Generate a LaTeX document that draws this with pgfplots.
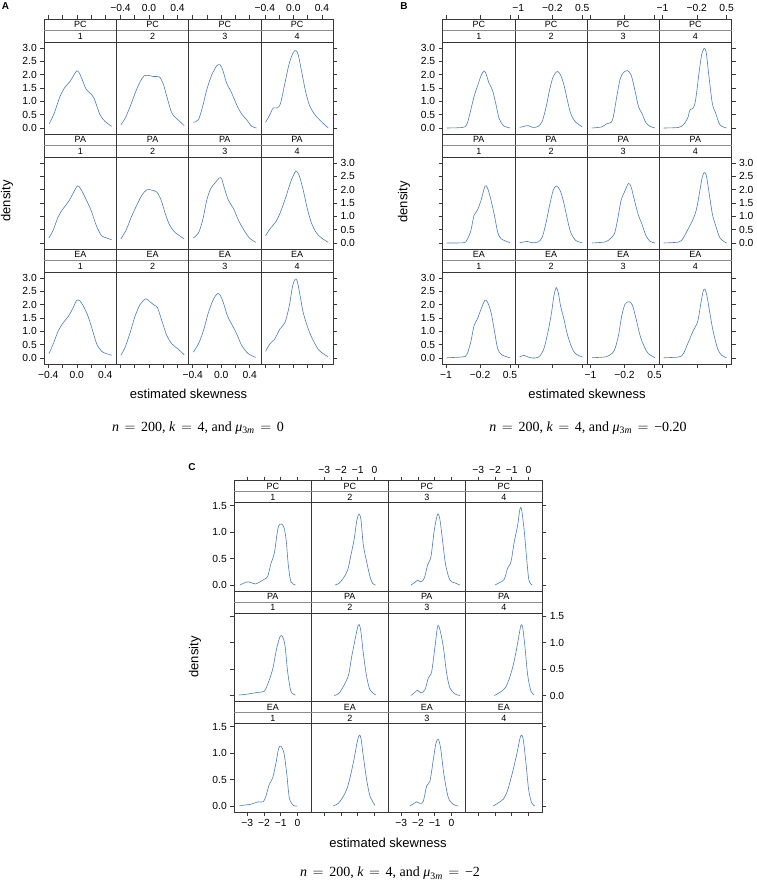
\documentclass[border=0pt]{standalone}
\usepackage{fontspec}
\setmainfont{Liberation Sans}
\newfontfamily\capf{Liberation Serif}
\usepackage{pgfplots}
\pgfplotsset{compat=1.18}
\definecolor{cv}{RGB}{75,125,185}
\definecolor{fr}{RGB}{55,55,55}
\newcommand\tlf{\fontsize{10.3}{12}\selectfont}
\newcommand\stf{\fontsize{9}{10}\selectfont}
\newcommand\mi[1]{{\itshape #1}}
\newcommand\eq{\hspace{0.4em}$=$\hspace{0.4em}}
\newcommand\capt[1]{{\capf\fontsize{14}{16}\selectfont\mi{n}\eq 200, \mi{k}\eq 4, and \mi{μ}\textsubscript{3\mi{m}}\eq #1}}

\pgfplotsset{
  lat/.style={scale only axis, anchor=south west, clip=true,
    axis line style={draw=fr, line width=0.5pt},
    tick style={draw=fr, line width=0.5pt},
    tick align=outside, major tick length=4pt,
    xtick=\empty, ytick=\empty,
    ticklabel style={font=\tlf}},
  la/.style={lat, width=72.2pt, height=115pt, xmin=-0.456, xmax=0.557, ymin=-0.225, ymax=4.0875},
  lb/.style={lat, width=72.2pt, height=115pt, xmin=-1.077, xmax=0.614, ymin=-0.225, ymax=4.0875},
  lc/.style={lat, width=77pt, height=110.5pt, xmin=-3.78, xmax=0.83, ymin=-0.117, ymax=1.972},
  xtA/.style={xtick={-0.4,-0.2,0,0.2,0.4}}, xlA/.style={xticklabels={−0.4,,0.0,,0.4}},
  xtB/.style={xtick={-1,-0.2,0.5}}, xlB/.style={xticklabels={−1,−0.2,0.5}},
  xtC/.style={xtick={-3,-2,-1,0}}, xlC/.style={xticklabels={−3,−2,−1,0}},
  ytAB/.style={ytick={0,0.5,1,1.5,2,2.5,3}}, ylAB/.style={yticklabels={0.0,0.5,1.0,1.5,2.0,2.5,3.0}},
  ytC/.style={ytick={0,0.5,1,1.5}}, ylC/.style={yticklabels={0.0,0.5,1.0,1.5}},
  top/.style={xtick pos=right, xticklabel pos=right},
  bot/.style={xtick pos=left, xticklabel pos=left},
  lft/.style={ytick pos=left, yticklabel pos=left},
  rgt/.style={ytick pos=right, yticklabel pos=right},
  nolx/.style={xticklabels={}}, noly/.style={yticklabels={}},
  cv/.style={color=cv, line width=0.6pt, smooth, no markers},
}
\newcommand\pan[2]{\begin{axis}[#1]\addplot[cv] coordinates {#2};\end{axis}}

\begin{document}
\begin{tikzpicture}[x=1pt,y=1pt]
\useasboundingbox (0,0) rectangle (756,883);

% ---------------- A ----------------
\pan{la,at={(44.3pt,749pt)},xtA,top,nolx,ytAB,lft,ylAB}{(-0.386,0.16)(-0.316,0.56)(-0.236,1.18)(-0.166,1.53)(-0.096,1.74)(-0.040,1.99)(-0.002,2.14)(0.031,2.08)(0.068,1.87)(0.129,1.46)(0.185,1.31)(0.241,1.12)(0.325,0.50)(0.395,0.25)(0.489,0.06)}
\pan{la,at={(116.5pt,749pt)},xtA,top,xlA}{(-0.395,0.12)(-0.334,0.37)(-0.264,0.81)(-0.194,1.31)(-0.124,1.74)(-0.068,1.96)(-0.030,1.98)(0.063,1.93)(0.148,1.91)(0.204,1.62)(0.250,1.18)(0.321,0.56)(0.414,0.29)(0.494,0.09)}
\pan{la,at={(188.7pt,749pt)},xtA,top,nolx}{(-0.391,0.21)(-0.320,0.31)(-0.260,0.81)(-0.203,1.43)(-0.133,1.99)(-0.063,2.33)(-0.016,2.37)(0.021,2.18)(0.077,1.68)(0.147,1.31)(0.227,0.81)(0.288,0.52)(0.358,0.31)(0.428,0.06)(0.498,0.0)}
\pan{la,at={(260.9pt,749pt)},xtA,top,xlA,ytAB,rgt,noly}{(-0.391,0.21)(-0.330,0.50)(-0.283,0.75)(-0.227,0.75)(-0.180,0.93)(-0.119,1.68)(-0.058,2.43)(-0.002,2.83)(0.035,2.90)(0.068,2.74)(0.115,2.12)(0.176,1.31)(0.232,0.81)(0.302,0.50)(0.372,0.29)(0.489,0.0)}

\pan{la,at={(44.3pt,634pt)},ytAB,lft,noly}{(-0.391,0.19)(-0.330,0.49)(-0.260,0.99)(-0.189,1.30)(-0.119,1.54)(-0.058,1.83)(0.007,2.14)(0.045,2.07)(0.091,1.85)(0.147,1.54)(0.208,1.17)(0.279,0.62)(0.349,0.27)(0.419,0.19)(0.489,0.12)}
\pan{la,at={(116.5pt,634pt)}}{(-0.395,0.15)(-0.320,0.49)(-0.250,0.96)(-0.171,1.42)(-0.100,1.79)(-0.030,2.00)(0.040,1.98)(0.110,1.91)(0.171,1.60)(0.227,1.11)(0.288,0.68)(0.353,0.43)(0.428,0.27)(0.494,0.15)}
\pan{la,at={(188.7pt,634pt)}}{(-0.391,0.19)(-0.320,0.37)(-0.260,0.86)(-0.203,1.60)(-0.147,2.04)(-0.086,2.25)(-0.026,2.44)(0.007,2.41)(0.040,2.10)(0.101,1.60)(0.171,1.30)(0.241,0.86)(0.311,0.52)(0.395,0.19)(0.489,0.02)}
\pan{la,at={(260.9pt,634pt)},ytAB,rgt,ylAB}{(-0.391,0.27)(-0.320,0.56)(-0.245,0.80)(-0.180,1.17)(-0.105,1.73)(-0.040,2.28)(0.021,2.65)(0.045,2.69)(0.082,2.53)(0.138,1.98)(0.194,1.30)(0.255,0.74)(0.325,0.37)(0.395,0.19)(0.489,0.02)}

\pan{la,at={(44.3pt,519pt)},xtA,bot,xlA,ytAB,lft,ylAB}{(-0.391,0.16)(-0.330,0.53)(-0.260,1.02)(-0.189,1.33)(-0.119,1.56)(-0.058,1.85)(-0.002,2.16)(0.045,2.14)(0.091,1.95)(0.147,1.64)(0.208,1.15)(0.279,0.53)(0.349,0.25)(0.419,0.16)(0.489,0.10)}
\pan{la,at={(116.5pt,519pt)},xtA,bot,nolx}{(-0.395,0.10)(-0.334,0.41)(-0.264,0.96)(-0.194,1.58)(-0.124,2.01)(-0.044,2.22)(0.017,2.10)(0.073,1.98)(0.119,1.89)(0.180,1.40)(0.250,0.84)(0.321,0.53)(0.414,0.32)(0.494,0.12)}
\pan{la,at={(188.7pt,519pt)},xtA,bot,xlA}{(-0.391,0.22)(-0.320,0.53)(-0.250,1.02)(-0.180,1.70)(-0.110,2.20)(-0.054,2.41)(-0.016,2.36)(0.031,2.07)(0.087,1.58)(0.147,1.27)(0.218,0.90)(0.288,0.47)(0.381,0.16)(0.489,0.02)}
\pan{la,at={(260.9pt,519pt)},xtA,bot,nolx,ytAB,rgt,noly}{(-0.391,0.25)(-0.330,0.53)(-0.260,0.72)(-0.189,1.09)(-0.119,1.33)(-0.058,1.95)(-0.012,2.69)(0.026,2.96)(0.054,2.88)(0.091,2.38)(0.138,1.70)(0.208,1.09)(0.279,0.65)(0.363,0.28)(0.489,0.04)}

% ---------------- B ----------------
\pan{lb,at={(442.7pt,749pt)},xtB,top,nolx,ytAB,lft,ylAB}{(-0.983,0)(-0.616,0.02)(-0.515,0.12)(-0.437,0.56)(-0.343,1.18)(-0.265,1.56)(-0.179,1.96)(-0.109,2.14)(-0.062,2.03)(0.008,1.68)(0.086,1.43)(0.164,0.93)(0.242,0.37)(0.344,0.09)(0.500,0)}
\pan{lb,at={(514.9pt,749pt)},xtB,top,xlB}{(-0.968,0.02)(-0.866,0.06)(-0.765,0.09)(-0.655,0.02)(-0.531,0.06)(-0.437,0.25)(-0.343,0.81)(-0.265,1.43)(-0.179,1.93)(-0.086,2.12)(-0.008,1.99)(0.071,1.62)(0.149,1.06)(0.227,0.56)(0.328,0.25)(0.500,0.04)}
\pan{lb,at={(587.1pt,749pt)},xtB,top,nolx}{(-0.968,0)(-0.734,0.04)(-0.616,0.16)(-0.515,0.21)(-0.460,0.44)(-0.382,1.18)(-0.304,1.83)(-0.226,2.08)(-0.132,2.15)(-0.047,1.99)(0.032,1.49)(0.125,0.81)(0.203,0.56)(0.297,0.21)(0.398,0.06)(0.515,0)}
\pan{lb,at={(659.3pt,749pt)},xtB,top,xlB,ytAB,rgt,noly}{(-0.976,0)(-0.632,0.02)(-0.515,0.12)(-0.413,0.37)(-0.359,0.68)(-0.281,0.75)(-0.226,1.06)(-0.148,2.05)(-0.086,2.74)(-0.023,2.99)(0.024,2.80)(0.086,1.93)(0.164,0.93)(0.242,0.56)(0.344,0.12)(0.500,0)}

\pan{lb,at={(442.7pt,634pt)},ytAB,lft,noly}{(-0.983,0)(-0.593,0.01)(-0.515,0.10)(-0.421,0.44)(-0.343,1.04)(-0.265,1.23)(-0.179,1.60)(-0.086,2.14)(-0.023,2.04)(0.055,1.60)(0.133,1.04)(0.211,0.41)(0.289,0.16)(0.500,0.01)}
\pan{lb,at={(514.9pt,634pt)}}{(-0.968,0.01)(-0.866,0.04)(-0.788,0.06)(-0.671,0.01)(-0.531,0.04)(-0.437,0.22)(-0.343,0.79)(-0.265,1.41)(-0.179,1.98)(-0.101,2.14)(-0.023,1.98)(0.055,1.60)(0.149,0.91)(0.227,0.41)(0.344,0.10)(0.500,0.01)}
\pan{lb,at={(587.1pt,634pt)}}{(-0.968,0)(-0.655,0.04)(-0.538,0.16)(-0.437,0.35)(-0.359,0.91)(-0.281,1.60)(-0.203,1.91)(-0.109,2.23)(-0.047,2.10)(0.032,1.60)(0.125,1.04)(0.203,0.73)(0.297,0.29)(0.398,0.06)(0.515,0)}
\pan{lb,at={(659.3pt,634pt)},ytAB,rgt,ylAB}{(-0.976,0)(-0.616,0.04)(-0.515,0.19)(-0.398,0.54)(-0.281,0.91)(-0.203,1.29)(-0.125,1.98)(-0.070,2.48)(-0.023,2.64)(0.024,2.54)(0.086,1.91)(0.164,1.10)(0.227,0.73)(0.344,0.19)(0.500,0)}

\pan{lb,at={(442.7pt,519pt)},xtB,bot,xlB,ytAB,lft,ylAB}{(-0.983,0.01)(-0.616,0.04)(-0.515,0.12)(-0.421,0.59)(-0.343,1.21)(-0.265,1.46)(-0.179,1.83)(-0.086,2.17)(-0.023,2.08)(0.055,1.71)(0.133,1.03)(0.211,0.35)(0.305,0.12)(0.500,0.01)}
\pan{lb,at={(514.9pt,519pt)},xtB,bot,nolx}{(-0.968,0.04)(-0.866,0.10)(-0.788,0.05)(-0.671,0)(-0.515,0.04)(-0.398,0.35)(-0.296,1.03)(-0.218,1.71)(-0.164,2.33)(-0.109,2.64)(-0.062,2.45)(-0.008,1.96)(0.071,1.46)(0.149,0.90)(0.250,0.41)(0.344,0.16)(0.500,0.04)}
\pan{lb,at={(587.1pt,519pt)},xtB,bot,xlB}{(-0.968,0.01)(-0.655,0.04)(-0.538,0.12)(-0.437,0.29)(-0.343,0.84)(-0.265,1.59)(-0.187,2.02)(-0.093,2.11)(-0.015,1.98)(0.063,1.52)(0.164,0.84)(0.266,0.41)(0.360,0.16)(0.515,0.01)}
\pan{lb,at={(659.3pt,519pt)},xtB,bot,nolx,ytAB,rgt,noly}{(-0.976,0.01)(-0.616,0.04)(-0.515,0.16)(-0.398,0.59)(-0.281,1.03)(-0.179,1.36)(-0.101,2.08)(-0.047,2.52)(-0.008,2.58)(0.039,2.33)(0.110,1.65)(0.188,0.97)(0.289,0.35)(0.383,0.10)(0.500,0.01)}

% ---------------- C ----------------
\pan{lc,at={(234.3pt,291.8pt)},xtC,top,nolx,ytC,lft,ylC}{(-3.441,0)(-3.181,0.04)(-2.942,0.06)(-2.742,0.04)(-2.503,0.02)(-2.243,0.06)(-1.984,0.11)(-1.784,0.16)(-1.584,0.41)(-1.385,0.60)(-1.185,1.04)(-1.046,1.15)(-0.846,1.12)(-0.686,0.88)(-0.547,0.38)(-0.387,0.06)(-0.107,0)}
\pan{lc,at={(311.3pt,291.8pt)},xtC,top,xlC}{(-2.363,0)(-2.123,0.03)(-1.864,0.13)(-1.604,0.28)(-1.405,0.57)(-1.205,0.88)(-1.065,1.20)(-0.926,1.34)(-0.806,1.23)(-0.666,0.76)(-0.467,0.44)(-0.267,0.16)(-0.107,0.03)(0.072,0)}
\pan{lc,at={(388.3pt,291.8pt)},xtC,top,nolx}{(-2.423,0)(-2.183,0.05)(-2.024,0.09)(-1.824,0.06)(-1.624,0.13)(-1.425,0.38)(-1.225,0.54)(-1.026,1.04)(-0.826,1.34)(-0.686,1.23)(-0.547,0.88)(-0.347,0.38)(-0.087,0.09)(0.212,0.04)(0.511,0)}
\pan{lc,at={(465.3pt,291.8pt)},xtC,top,xlC,ytC,rgt,noly}{(-2.004,0)(-1.704,0.05)(-1.445,0.11)(-1.245,0.32)(-1.046,0.44)(-0.846,0.82)(-0.646,1.13)(-0.507,1.44)(-0.407,1.42)(-0.247,1.01)(-0.107,0.50)(0.032,0.09)(0.232,0)}

\pan{lc,at={(234.3pt,181.3pt)},ytC,lft,noly}{(-3.501,0.01)(-3.141,0.02)(-2.742,0.04)(-2.343,0.06)(-1.984,0.08)(-1.784,0.21)(-1.584,0.39)(-1.445,0.55)(-1.245,0.89)(-1.046,1.11)(-0.906,1.12)(-0.746,0.95)(-0.587,0.45)(-0.387,0.08)(-0.107,0.01)}
\pan{lc,at={(311.3pt,181.3pt)}}{(-2.403,0)(-2.123,0.04)(-1.864,0.17)(-1.664,0.29)(-1.525,0.42)(-1.365,0.73)(-1.165,1.05)(-1.006,1.29)(-0.906,1.34)(-0.806,1.20)(-0.666,0.80)(-0.467,0.36)(-0.267,0.11)(0.072,0.01)}
\pan{lc,at={(388.3pt,181.3pt)}}{(-2.423,0)(-2.183,0.06)(-2.024,0.10)(-1.824,0.05)(-1.584,0.11)(-1.385,0.33)(-1.185,0.45)(-0.986,0.92)(-0.826,1.31)(-0.686,1.24)(-0.487,0.92)(-0.287,0.42)(-0.087,0.14)(0.212,0.03)(0.511,0)}
\pan{lc,at={(465.3pt,181.3pt)},ytC,rgt,ylC}{(-2.044,0)(-1.704,0.06)(-1.405,0.14)(-1.165,0.30)(-0.906,0.58)(-0.706,0.89)(-0.547,1.17)(-0.447,1.33)(-0.347,1.29)(-0.207,0.92)(-0.047,0.39)(0.152,0.08)(0.352,0.01)}

\pan{lc,at={(234.3pt,70.8pt)},xtC,bot,xlC,ytC,lft,ylC}{(-3.481,0)(-3.141,0.02)(-2.842,0.03)(-2.543,0.06)(-2.343,0.08)(-2.044,0.08)(-1.884,0.19)(-1.684,0.41)(-1.485,0.53)(-1.285,0.81)(-1.125,1.09)(-0.986,1.13)(-0.806,1.00)(-0.647,0.63)(-0.487,0.16)(-0.247,0.01)(-0.007,0)}
\pan{lc,at={(311.3pt,70.8pt)},xtC,bot,nolx}{(-2.463,0)(-2.163,0.05)(-1.904,0.16)(-1.664,0.31)(-1.465,0.53)(-1.225,0.88)(-1.026,1.22)(-0.906,1.34)(-0.806,1.28)(-0.666,0.94)(-0.467,0.50)(-0.267,0.19)(0.032,0.01)}
\pan{lc,at={(388.3pt,70.8pt)},xtC,bot,xlC}{(-2.483,0)(-2.243,0.05)(-2.083,0.08)(-1.884,0.05)(-1.684,0.09)(-1.485,0.38)(-1.285,0.47)(-1.085,0.88)(-0.926,1.19)(-0.786,1.26)(-0.646,1.09)(-0.447,0.59)(-0.187,0.16)(0.112,0.03)(0.412,0)}
\pan{lc,at={(465.3pt,70.8pt)},xtC,bot,nolx,ytC,rgt,noly}{(-2.103,0)(-1.804,0.06)(-1.505,0.13)(-1.265,0.28)(-1.066,0.50)(-0.866,0.75)(-0.666,1.03)(-0.507,1.28)(-0.407,1.34)(-0.307,1.25)(-0.147,0.81)(0.012,0.31)(0.192,0.06)(0.392,0)}

% strips
\foreach \xs in {44.3,442.7}{
  \foreach \r/\lab in {0/PC,1/PA,2/EA}{
    \foreach \c in {1,2,3,4}{
      \pgfmathsetmacro\xo{\xs+(\c-1)*72.2}
      \pgfmathsetmacro\yt{864-115*\r}
      \draw[fr,line width=0.5pt,fill=white] (\xo,\yt) rectangle ++(72.2,-23);
      \draw[black!45,line width=0.5pt] (\xo,\yt-11.5) -- ++(72.2,0);
      \node[font=\stf,inner sep=0pt] at (\xo+36.1,\yt-5.75) {\lab};
      \node[font=\stf,inner sep=0pt] at (\xo+36.1,\yt-17.25) {\c};
}}}
\foreach \r/\lab in {0/PC,1/PA,2/EA}{
  \foreach \c in {1,2,3,4}{
    \pgfmathsetmacro\xo{234.3+(\c-1)*77}
    \pgfmathsetmacro\yt{402.3-110.5*\r}
    \draw[fr,line width=0.5pt,fill=white] (\xo,\yt) rectangle ++(77,-22);
    \draw[black!45,line width=0.5pt] (\xo,\yt-11) -- ++(77,0);
    \node[font=\stf,inner sep=0pt] at (\xo+38.5,\yt-5.5) {\lab};
    \node[font=\stf,inner sep=0pt] at (\xo+38.5,\yt-16.5) {\c};
}}

% labels
\node[font=\bfseries\fontsize{10}{12}\selectfont] at (5.5,876.5) {A};
\node[font=\bfseries\fontsize{10}{12}\selectfont] at (404,876.5) {B};
\node[font=\bfseries\fontsize{10}{12}\selectfont] at (192,416) {C};
\node[rotate=90,font=\fontsize{13}{15}\selectfont] at (7,682) {density};
\node[rotate=90,font=\fontsize{13}{15}\selectfont] at (404,681) {density};
\node[rotate=90,font=\fontsize{13}{15}\selectfont] at (195,226) {density};
\node[font=\fontsize{13}{15}\selectfont] at (188.5,489) {estimated skewness};
\node[font=\fontsize{13}{15}\selectfont] at (587,489) {estimated skewness};
\node[font=\fontsize{13}{15}\selectfont] at (388,40) {estimated skewness};
\node at (198,455) {\capt{0}};
\node at (588,455) {\capt{−0.20}};
\node at (390,9.5) {\capt{−2}};
\end{tikzpicture}
\end{document}
